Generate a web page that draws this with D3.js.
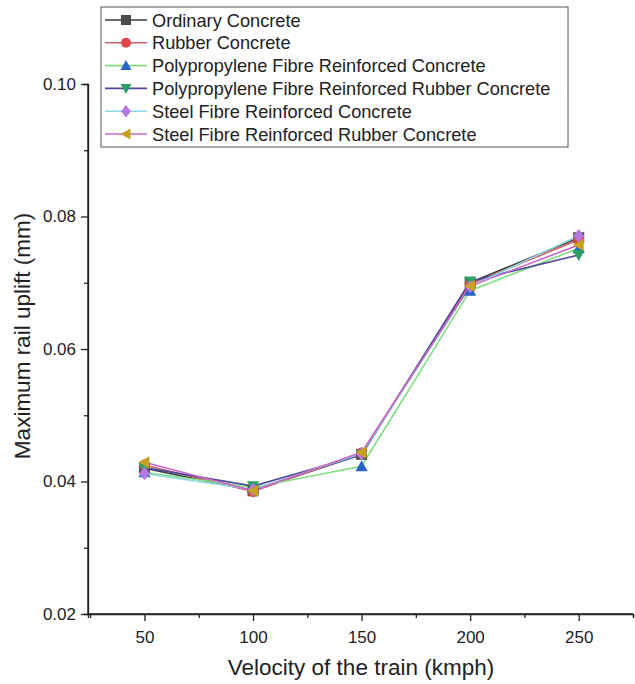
<!DOCTYPE html>
<html>
<head>
<meta charset="utf-8">
<script src="https://cdn.jsdelivr.net/npm/d3@7"></script>
<style>
  body { margin: 0; background: #fff; }
  svg { font-family: Arial, "Liberation Sans", sans-serif; }
  .axis path, .axis line { stroke: #222; stroke-width: 1.3; }
  .axis text { font-size: 17px; fill: #222; }
</style>
</head>
<body>
<svg width="635" height="684"></svg>
<script>
var velocity = [50, 100, 150, 200, 250];

var seriesNames = [
  "Ordinary Concrete",
  "Rubber Concrete",
  "Polypropylene Fibre Reinforced Concrete",
  "Polypropylene Fibre Reinforced Rubber Concrete",
  "Steel Fibre Reinforced Concrete",
  "Steel Fibre Reinforced Rubber Concrete"
];

var ordinary   = [0.0420, 0.0386, 0.0441, 0.0700, 0.0768];
var rubber     = [0.0425, 0.0385, 0.0443, 0.0698, 0.0765];
var ppConc     = [0.0414, 0.0391, 0.0423, 0.0688, 0.0752];
var ppRubber   = [0.0421, 0.0393, 0.0440, 0.0702, 0.0742];
var steelConc  = [0.0412, 0.0388, 0.0442, 0.0694, 0.0771];
var steelRub   = [0.0429, 0.0386, 0.0444, 0.0695, 0.0757];

var yTicks = [0.02, 0.04, 0.06, 0.08, 0.10];

var lineColors   = ["#3a3a3a", "#d0606a", "#80e080", "#4a4a98", "#8ed8e4", "#c868c8"];
var markerColors = ["#4a4a4a", "#e04848", "#2a62c8", "#2aa068", "#b478e0", "#c8a020"];
var symbols = ["square", "circle", "up", "down", "diamond", "left"];

var data = [ordinary, rubber, ppConc, ppRubber, steelConc, steelRub];

var svg = d3.select("svg"),
    margin = {top: 84, right: 2, bottom: 70, left: 88},
    width = +svg.attr("width") - margin.left - margin.right,
    height = +svg.attr("height") - margin.top - margin.bottom,
    g = svg.append("g").attr("transform", "translate(" + margin.left + "," + margin.top + ")");

var x = d3.scaleLinear().domain([24, 275]).range([0, width]);
var y = d3.scaleLinear().domain([0.02, 0.10]).range([height, 0]);

// minor ticks first
g.append("g")
    .attr("class", "axis")
    .attr("transform", "translate(0," + height + ")")
    .call(d3.axisBottom(x).tickValues([25, 75, 125, 175, 225, 275]).tickSize(4).tickFormat(""));
g.append("g")
    .attr("class", "axis")
    .call(d3.axisLeft(y).tickValues([0.03, 0.05, 0.07, 0.09]).tickSize(4).tickFormat(""));

g.append("g")
    .attr("class", "axis")
    .attr("transform", "translate(0," + height + ")")
    .call(d3.axisBottom(x).tickValues(velocity).tickSize(7).tickSizeOuter(0).tickPadding(10))
    .select(".domain").remove();

g.append("g")
    .attr("class", "axis")
    .call(d3.axisLeft(y).tickValues(yTicks).tickSize(7).tickSizeOuter(0).tickPadding(5).tickFormat(d3.format(".2f")))
    .select(".domain").remove();

// axis lines
g.append("line").attr("x1", 0).attr("x2", width).attr("y1", height).attr("y2", height)
    .attr("stroke", "#222").attr("stroke-width", 1.4);
g.append("line").attr("x1", 0).attr("x2", 0).attr("y1", 0).attr("y2", height)
    .attr("stroke", "#222").attr("stroke-width", 1.4);

function symbolPath(kind, s) {
  switch (kind) {
    case "square": return d3.symbol(d3.symbolSquare, s * s)();
    case "circle": return d3.symbol(d3.symbolCircle, s * s * 0.8)();
    case "diamond": return "M0," + (-s * 0.62) + "L" + (s * 0.5) + ",0L0," + (s * 0.62) + "L" + (-s * 0.5) + ",0Z";
    case "up": return "M0," + (-s * 0.55) + "L" + (s * 0.55) + "," + (s * 0.45) + "L" + (-s * 0.55) + "," + (s * 0.45) + "Z";
    case "down": return "M0," + (s * 0.55) + "L" + (s * 0.55) + "," + (-s * 0.45) + "L" + (-s * 0.55) + "," + (-s * 0.45) + "Z";
    case "left": return "M" + (-s * 0.55) + ",0L" + (s * 0.45) + "," + (-s * 0.55) + "L" + (s * 0.45) + "," + (s * 0.55) + "Z";
  }
}

var line = d3.line()
    .x(function(d, i) { return x(velocity[i]); })
    .y(function(d) { return y(d); });

data.forEach(function(vals, k) {
  g.append("path")
      .datum(vals)
      .attr("fill", "none")
      .attr("stroke", lineColors[k])
      .attr("stroke-width", 1.6)
      .attr("d", line);
});

data.forEach(function(vals, k) {
  g.append("g").selectAll("path")
    .data(vals)
    .enter().append("path")
      .attr("transform", function(d, i) { return "translate(" + x(velocity[i]) + "," + y(d) + ")"; })
      .attr("fill", markerColors[k])
      .attr("d", symbolPath(symbols[k], 11));
});

// axis titles
svg.append("text")
    .attr("x", 361)
    .attr("y", 675)
    .attr("text-anchor", "middle")
    .attr("font-size", 22.5)
    .attr("fill", "#222")
    .text("Velocity of the train (kmph)");

svg.append("text")
    .attr("transform", "translate(30,336) rotate(-90)")
    .attr("text-anchor", "middle")
    .attr("font-size", 22.5)
    .attr("fill", "#222")
    .text("Maximum rail uplift (mm)");

// legend
var legend = svg.append("g").attr("transform", "translate(101,7)");
legend.append("rect")
    .attr("width", 467).attr("height", 140)
    .attr("fill", "#fff").attr("stroke", "#555").attr("stroke-width", 1);

var items = legend.selectAll("g.item")
    .data(seriesNames)
    .enter().append("g")
      .attr("class", "item")
      .attr("transform", function(d, i) { return "translate(0," + (13 + i * 22.8) + ")"; });

items.append("line")
    .attr("x1", 4).attr("x2", 46)
    .attr("stroke", function(d, i) { return lineColors[i]; })
    .attr("stroke-width", 1.6);

items.append("path")
    .attr("transform", "translate(25,0)")
    .attr("fill", function(d, i) { return markerColors[i]; })
    .attr("d", function(d, i) { return symbolPath(symbols[i], 10); });

items.append("text")
    .attr("x", 51)
    .attr("dy", "0.36em")
    .attr("font-size", 18.2)
    .attr("fill", "#222")
    .text(function(d) { return d; });
</script>
</body>
</html>
